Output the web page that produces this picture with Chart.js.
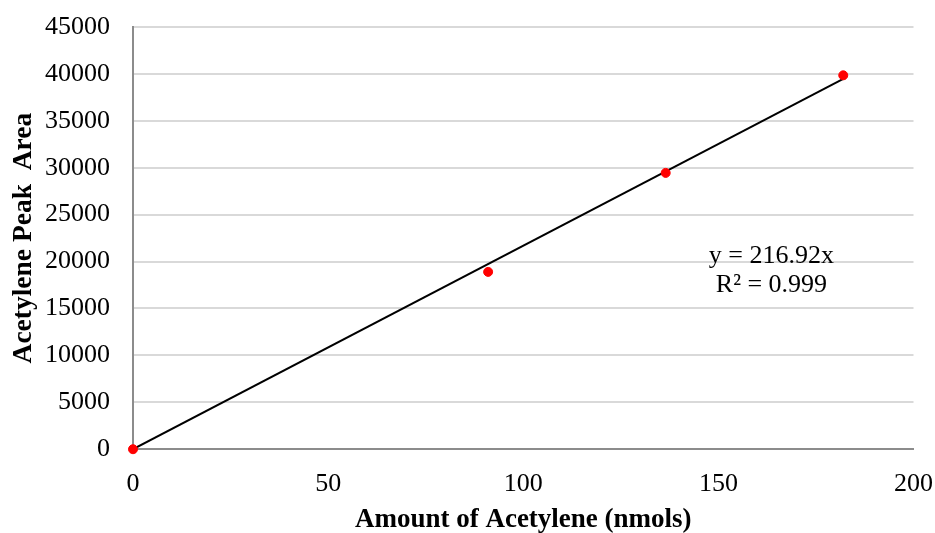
<!DOCTYPE html>
<html>
<head>
<meta charset="utf-8">
<script src="https://cdn.jsdelivr.net/npm/chart.js@4.4.1/dist/chart.umd.min.js"></script>
<style>
  html, body { margin: 0; padding: 0; background: #fff; }
  #wrap { width: 935px; height: 533px; }
</style>
</head>
<body>
<div id="wrap"><canvas id="chart" width="935" height="533"></canvas></div>
<script>
// Measured points (nmols vs peak area)
const amounts = [0, 91, 136.5, 182];
const peakAreas = [0, 18900, 29450, 39850];

// Trendline through origin, from the chart's equation
const slope = 216.92;
const rSquared = '0.999';
const trendX = [0, 182];

const xTicks = [0, 50, 100, 150, 200];
const yTicks = [0, 5000, 10000, 15000, 20000, 25000, 30000, 35000, 40000, 45000];

const serif = 'Liberation Serif, Times New Roman, serif';

// Draws the equation label at a spot given in data units
const equationLabel = {
    id: 'equationLabel',
    afterDatasetsDraw(chart) {
        const ctx = chart.ctx;
        const x = chart.scales.x.getPixelForValue(163.6);
        const y = chart.scales.y.getPixelForValue(20600);
        ctx.save();
        ctx.fillStyle = '#000';
        ctx.font = '26px ' + serif;
        ctx.textAlign = 'center';
        ctx.textBaseline = 'middle';
        ctx.fillText('y = ' + slope + 'x', x, y);
        ctx.fillText('R² = ' + rSquared, x, y + 29);
        ctx.restore();
    }
};

new Chart(document.getElementById('chart'), {
    type: 'scatter',
    data: {
        datasets: [
            {
                label: 'Peak area',
                data: amounts.map((a, i) => ({ x: a, y: peakAreas[i] })),
                backgroundColor: '#ff0000',
                borderColor: '#ff0000',
                pointRadius: 4.5,
                clip: false,
                order: 1
            },
            {
                type: 'line',
                label: 'Trend',
                data: trendX.map(x => ({ x: x, y: slope * x })),
                borderColor: '#000',
                borderWidth: 2,
                pointRadius: 0,
                fill: false,
                order: 2
            }
        ]
    },
    options: {
        responsive: false,
        animation: false,
        layout: { padding: { left: 3, right: 2, top: 27, bottom: 0 } },
        plugins: {
            legend: { display: false },
            tooltip: { enabled: false }
        },
        scales: {
            x: {
                type: 'linear',
                min: 0,
                max: 200,
                afterBuildTicks: axis => { axis.ticks = xTicks.map(v => ({ value: v })); },
                // invisible grid, tick length only used as spacing
                grid: {
                    display: true,
                    drawOnChartArea: false,
                    drawTicks: true,
                    tickLength: 17,
                    color: 'rgba(0,0,0,0)',
                    tickColor: 'rgba(0,0,0,0)'
                },
                border: { color: '#8c8c8c', width: 2 },
                ticks: {
                    color: '#000',
                    font: { family: serif, size: 26 },
                    padding: 2,
                    callback: v => String(v)
                },
                title: {
                    display: true,
                    text: 'Amount of Acetylene (nmols)',
                    color: '#000',
                    font: { family: serif, size: 27, weight: 'bold', lineHeight: 1.17 },
                    padding: { top: 3, bottom: -3 }
                }
            },
            y: {
                min: 0,
                max: 45000,
                afterBuildTicks: axis => { axis.ticks = yTicks.map(v => ({ value: v })); },
                grid: {
                    color: '#d9d9d9',
                    lineWidth: 2,
                    drawTicks: true,
                    tickLength: 19,
                    tickColor: 'rgba(0,0,0,0)'
                },
                border: { color: '#8c8c8c', width: 2 },
                ticks: {
                    color: '#000',
                    font: { family: serif, size: 26 },
                    padding: 4,
                    callback: v => String(v)
                },
                title: {
                    display: true,
                    text: 'Acetylene Peak  Area',
                    color: '#000',
                    font: { family: serif, size: 27.5, weight: 'bold' },
                    padding: { top: 4, bottom: 1 }
                }
            }
        }
    },
    plugins: [equationLabel]
});
</script>
</body>
</html>
